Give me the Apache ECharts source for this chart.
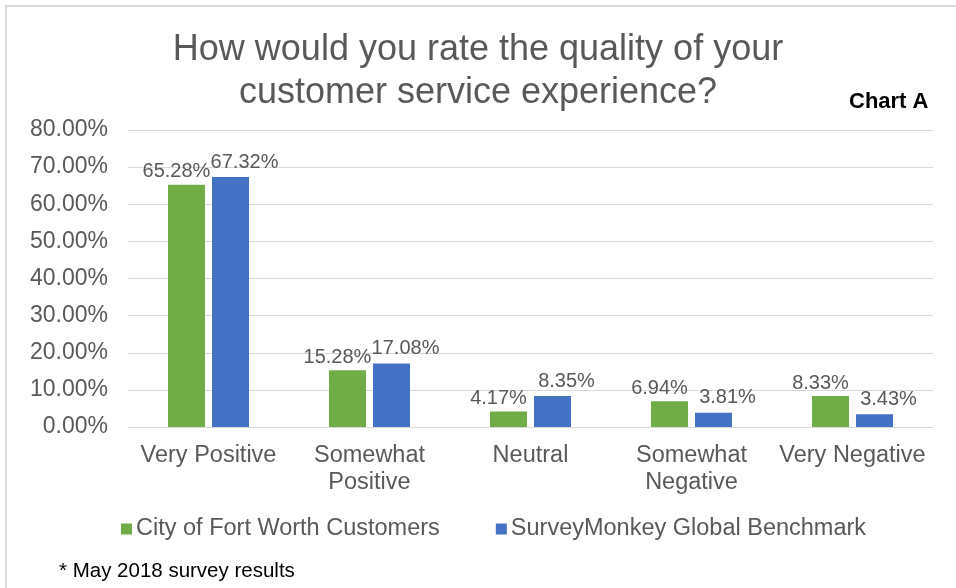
<!DOCTYPE html>
<html>
<head>
<meta charset="utf-8">
<script src="https://cdn.jsdelivr.net/npm/echarts@6/dist/echarts.min.js"></script>
<style>html,body{margin:0;padding:0;background:#fff}#c{width:956px;height:588px}</style>
</head>
<body>
<div id="c"></div>
<script>
const categories = ['Very Positive', 'Somewhat\nPositive', 'Neutral', 'Somewhat\nNegative', 'Very Negative'];
const seriesNames = ['City of Fort Worth Customers', 'SurveyMonkey Global Benchmark'];
const fortWorth = [65.28, 15.28, 4.17, 6.94, 8.33];
const benchmark = [67.32, 17.08, 8.35, 3.81, 3.43];
const yTicks = [0, 10, 20, 30, 40, 50, 60, 70, 80];

const FONT = '"Liberation Sans", Arial, sans-serif';
const chart = echarts.init(document.getElementById('c'));
chart.setOption({
  animation: false,
  textStyle: { fontFamily: FONT },
  graphic: [
    { type: 'rect', shape: { x: 6, y: 6, width: 1200, height: 1200 }, style: { fill: 'none', stroke: '#d9d9d9', lineWidth: 2 }, silent: true },
    { type: 'text', left: 849, top: 91, style: { text: 'Chart A', font: 'bold 22px ' + FONT, fill: '#000' } },
    { type: 'text', left: 59, top: 561, style: { text: '* May 2018 survey results', font: '20.5px ' + FONT, fill: '#000' } }
  ],
  title: {
    text: 'How would you rate the quality of your\ncustomer service experience?',
    left: 'center',
    top: 24,
    textStyle: { fontSize: 36, fontWeight: 'normal', color: '#595959', lineHeight: 43, fontFamily: FONT }
  },
  legend: {
    left: 116,
    top: 512,
    itemWidth: 11,
    itemHeight: 11,
    itemGap: 56,
    icon: 'rect',
    textStyle: { fontSize: 23.5, color: '#595959', fontFamily: FONT, padding: [0, 0, 0, -1] },
    data: seriesNames
  },
  grid: { left: 128, right: 23, top: 130, bottom: 161, containLabel: false },
  xAxis: {
    type: 'category',
    data: categories,
    axisLine: { lineStyle: { color: '#d9d9d9', width: 1 } },
    axisTick: { show: false },
    axisLabel: { color: '#595959', fontSize: 23.5, lineHeight: 27, margin: 15, interval: 0, fontFamily: FONT }
  },
  yAxis: {
    type: 'value',
    min: yTicks[0],
    max: yTicks[yTicks.length - 1],
    interval: 10,
    axisLine: { show: false },
    axisTick: { show: false },
    splitLine: { lineStyle: { color: '#d9d9d9', width: 1 } },
    axisLabel: { color: '#595959', fontSize: 23, margin: 20, fontFamily: FONT, formatter: v => v.toFixed(2) + '%' }
  },
  series: [
    {
      name: seriesNames[0], type: 'bar', data: fortWorth,
      barWidth: 37, barGap: '19%',
      itemStyle: { color: '#70ad47' },
      label: { show: true, position: 'top', distance: 3, offset: [-10, 0], color: '#595959', fontSize: 20, fontFamily: FONT, formatter: p => p.value.toFixed(2) + '%' }
    },
    {
      name: seriesNames[1], type: 'bar', data: benchmark,
      barWidth: 37,
      itemStyle: { color: '#4472c4' },
      label: { show: true, position: 'top', distance: 5, offset: [14, 0], color: '#595959', fontSize: 20, fontFamily: FONT, formatter: p => p.value.toFixed(2) + '%' }
    }
  ]
});
</script>
</body>
</html>
